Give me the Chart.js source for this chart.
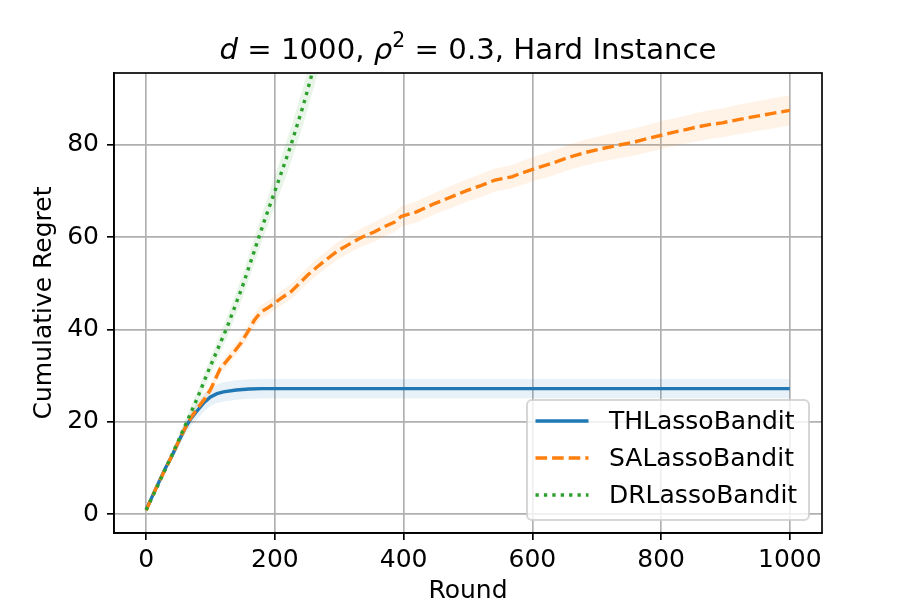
<!DOCTYPE html>
<html>
<head>
<meta charset="utf-8">
<script src="https://cdn.jsdelivr.net/npm/chart.js@4.4.0/dist/chart.umd.min.js"></script>
<style>
    html, body { margin: 0; background: #fff; }
</style>
</head>
<body>
<canvas id="regretChart" width="913" height="609"></canvas>
<script>
// Cumulative regret, d = 1000, rho^2 = 0.3, hard instance

const xTicks = [0, 200, 400, 600, 800, 1000];
const yTicks = [0, 20, 40, 60, 80];
const seriesNames = ['THLassoBandit', 'SALassoBandit', 'DRLassoBandit'];
const titleParts = [
    { text: 'd', style: 'italic' },
    { text: ' = 1000, ', style: 'normal' },
    { text: 'ρ', style: 'italic' },
    { text: '2', style: 'sup' },
    { text: ' = 0.3, Hard Instance', style: 'normal' }
];

// THLassoBandit
const thRounds = [0, 10, 20, 30, 40, 50, 60, 70, 80, 90, 100, 110, 120, 140, 160, 180, 200, 300, 400, 500, 600, 700, 800, 900, 1000];
const thRegret = [1, 4, 7, 10, 12.6, 15.6, 18.5, 20.8, 22.5, 24.2, 25.4, 26.1, 26.5, 26.9, 27.1, 27.2, 27.2, 27.2, 27.2, 27.2, 27.2, 27.2, 27.2, 27.2, 27.2];
const thSpread = [0.2, 0.4, 0.6, 0.8, 1.0, 1.2, 1.4, 1.6, 1.8, 1.9, 2.0, 2.0, 2.1, 2.1, 2.1, 2.1, 2.1, 2.1, 2.1, 2.1, 2.1, 2.1, 2.1, 2.1, 2.1];

// SALassoBandit
const saRounds = [0, 10, 20, 30, 40, 50, 60, 70, 80, 90, 100, 115, 130, 147, 160, 168, 178, 188, 199, 212, 225, 238, 251, 265, 282, 297, 313, 335, 355, 370, 386, 396, 420, 448, 475, 500, 520, 542, 568, 585, 604, 630, 656, 680, 708, 735, 760, 785, 812, 840, 856, 875, 895, 920, 947, 975, 1000];
const saRegret = [0.8, 4, 7, 9.8, 12.7, 15.6, 18.5, 21, 23, 24.8, 27, 31.5, 34, 37, 40, 42, 43.8, 44.6, 45.7, 47, 48.2, 50, 51.8, 53.5, 55.4, 57, 58.3, 60, 61.2, 62.3, 63.3, 64.5, 65.5, 67.3, 68.8, 70.2, 71.2, 72.4, 73.1, 74, 74.9, 76, 77.3, 78.3, 79.2, 80, 80.7, 81.6, 82.5, 83.4, 83.9, 84.4, 84.8, 85.5, 86.2, 86.9, 87.5];
const saSpread = [0.2, 0.4, 0.5, 0.6, 0.7, 0.8, 0.9, 1.0, 1.0, 1.1, 1.1, 1.2, 1.3, 1.3, 1.4, 1.4, 1.5, 1.5, 1.5, 1.6, 1.6, 1.7, 1.7, 1.8, 1.8, 1.9, 1.9, 2.0, 2.1, 2.1, 2.2, 2.2, 2.3, 2.3, 2.4, 2.4, 2.5, 2.5, 2.5, 2.6, 2.6, 2.7, 2.7, 2.8, 2.8, 2.9, 2.9, 3.0, 3.0, 3.0, 3.1, 3.1, 3.1, 3.2, 3.2, 3.3, 3.3];

// DRLassoBandit (runs off the top of the axes)
const drRounds = [0, 20, 40, 60, 80, 95, 126, 150, 183, 205, 225, 245, 258, 275, 300];
const drRegret = [0.9, 6.8, 12.8, 19, 25.3, 30.5, 40.6, 49.5, 63.3, 72, 80, 89, 95.6, 104, 115];
const drSpread = [0.3, 0.6, 0.9, 1.2, 1.5, 1.7, 2.2, 2.5, 3.0, 3.4, 3.8, 4.1, 4.3, 4.6, 5.0];

const FONT = "'DejaVu Sans'";
const LW = 3.4;
const seriesStyles = {
    THLassoBandit: { color: '#1f77b4', dash: [], band: 'rgba(31, 119, 180, 0.1)' },
    SALassoBandit: { color: '#ff7f0e', dash: [11.6, 5], band: 'rgba(255, 127, 14, 0.1)' },
    DRLassoBandit: { color: '#2ca02c', dash: [3.3, 5.1], band: 'rgba(44, 160, 44, 0.1)' }
};

function toPoints(xs, ys) {
    return xs.map((x, i) => ({ x: x, y: ys[i] }));
}

function toBand(xs, ys, spread, sign) {
    return xs.map((x, i) => ({ x: x, y: ys[i] + sign * spread[i] }));
}

function meanLine(name, xs, ys) {
    const s = seriesStyles[name];
    return {
        label: name,
        data: toPoints(xs, ys),
        borderColor: s.color,
        borderWidth: LW,
        borderDash: s.dash,
        pointRadius: 0,
        tension: 0,
        fill: false,
        clip: 0
    };
}

function bandPair(name, xs, ys, spread) {
    const s = seriesStyles[name];
    return [
        { data: toBand(xs, ys, spread, -1), borderWidth: 0, borderColor: 'transparent', pointRadius: 0, fill: false, clip: 0 },
        { data: toBand(xs, ys, spread, 1), borderWidth: 0, borderColor: 'transparent', pointRadius: 0, fill: '-1', backgroundColor: s.band, clip: 0 }
    ];
}

const framePlugin = {
    id: 'frame',
    afterDraw(chart) {
        const { ctx, chartArea: a } = chart;
        ctx.save();
        ctx.strokeStyle = '#000';
        ctx.lineWidth = 1.67;
        ctx.strokeRect(a.left, a.top, a.right - a.left, a.bottom - a.top);
        ctx.restore();
    }
};

const titlePlugin = {
    id: 'mathTitle',
    afterDraw(chart) {
        const { ctx, chartArea: a } = chart;
        const fonts = {
            normal: '29.2px ' + FONT,
            italic: 'italic 29.2px ' + FONT,
            sup: '20.4px ' + FONT
        };
        ctx.save();
        ctx.fillStyle = '#000';
        ctx.textBaseline = 'alphabetic';
        let total = 0;
        titleParts.forEach(p => {
            ctx.font = fonts[p.style];
            total += ctx.measureText(p.text).width;
        });
        let x = (a.left + a.right) / 2 - total / 2;
        const y = 59;
        titleParts.forEach(p => {
            ctx.font = fonts[p.style];
            ctx.fillText(p.text, x, p.style === 'sup' ? y - 12 : y);
            x += ctx.measureText(p.text).width;
        });
        ctx.restore();
    }
};

const legendPlugin = {
    id: 'cornerLegend',
    afterDraw(chart) {
        const { ctx, chartArea: a } = chart;
        const bx = a.right - 295, by = a.bottom - 133, bw = 282, bh = 120, r = 5;
        ctx.save();
        ctx.beginPath();
        ctx.moveTo(bx + r, by);
        ctx.arcTo(bx + bw, by, bx + bw, by + bh, r);
        ctx.arcTo(bx + bw, by + bh, bx, by + bh, r);
        ctx.arcTo(bx, by + bh, bx, by, r);
        ctx.arcTo(bx, by, bx + bw, by, r);
        ctx.closePath();
        ctx.fillStyle = 'rgba(255, 255, 255, 0.8)';
        ctx.fill();
        ctx.strokeStyle = 'rgba(204, 204, 204, 0.8)';
        ctx.lineWidth = 2;
        ctx.stroke();

        ctx.font = '25px ' + FONT;
        ctx.textBaseline = 'middle';
        ctx.fillStyle = '#000';
        seriesNames.forEach((name, i) => {
            const s = seriesStyles[name];
            const rowY = by + 21 + i * 37;
            ctx.beginPath();
            ctx.setLineDash(s.dash);
            ctx.strokeStyle = s.color;
            ctx.lineWidth = LW;
            ctx.moveTo(bx + 8.5, rowY);
            ctx.lineTo(bx + 61.5, rowY);
            ctx.stroke();
            ctx.setLineDash([]);
            ctx.fillText(name, bx + 82, rowY + 1);
        });
        ctx.restore();
    }
};

const tickFont = { family: FONT, size: 25 };

const ctx = document.getElementById('regretChart').getContext('2d');
new Chart(ctx, {
    type: 'line',
    data: {
        datasets: [
            meanLine('DRLassoBandit', drRounds, drRegret),
            meanLine('SALassoBandit', saRounds, saRegret),
            meanLine('THLassoBandit', thRounds, thRegret),
            ...bandPair('DRLassoBandit', drRounds, drRegret, drSpread),
            ...bandPair('SALassoBandit', saRounds, saRegret, saSpread),
            ...bandPair('THLassoBandit', thRounds, thRegret, thSpread)
        ]
    },
    options: {
        responsive: false,
        animation: false,
        layout: { padding: { top: 73, right: 91, bottom: 0, left: 0 } },
        plugins: {
            legend: { display: false },
            tooltip: { enabled: false },
            title: { display: false }
        },
        scales: {
            x: {
                type: 'linear',
                min: -50,
                max: 1050,
                afterBuildTicks: s => { s.ticks = xTicks.map(v => ({ value: v })); },
                afterFit: s => { s.height = 76; },
                grid: { color: '#b0b0b0', lineWidth: 1.67, tickColor: '#000', tickLength: 7, drawTicks: true },
                border: { color: '#000', width: 1.67 },
                ticks: { color: '#000', font: tickFont, padding: 5, maxRotation: 0, autoSkip: false, callback: v => String(v) },
                title: { display: true, text: 'Round', color: '#000', font: tickFont, padding: { top: 0, bottom: 3 } }
            },
            y: {
                type: 'linear',
                min: -4.1,
                max: 95.6,
                afterBuildTicks: s => { s.ticks = yTicks.map(v => ({ value: v })); },
                afterFit: s => { s.width = 114; },
                grid: { color: '#b0b0b0', lineWidth: 1.67, tickColor: '#000', tickLength: 7, drawTicks: true },
                border: { color: '#000', width: 1.67 },
                ticks: { color: '#000', font: tickFont, padding: 8, autoSkip: false, callback: v => String(v) },
                title: { display: true, text: 'Cumulative Regret', color: '#000', font: tickFont, padding: { top: 29, bottom: 0 } }
            }
        }
    },
    plugins: [framePlugin, titlePlugin, legendPlugin]
});
</script>
</body>
</html>
